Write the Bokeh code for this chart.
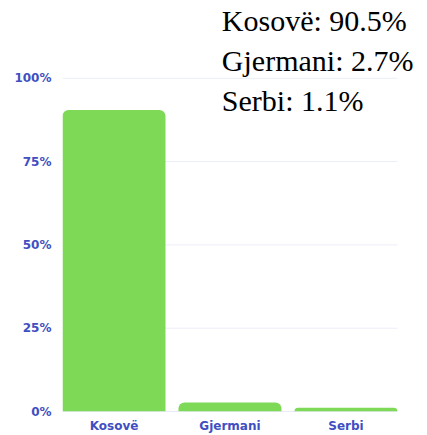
from bokeh.plotting import figure
from bokeh.models import Range1d, FixedTicker, Label, ColumnDataSource
from bokeh.embed import file_html
from bokeh.resources import INLINE

categories = ["Kosovë", "Gjermani", "Serbi"]
values = [90.5, 2.7, 1.1]
y_ticks = [0, 25, 50, 75, 100]
y_tick_labels = ["0%", "25%", "50%", "75%", "100%"]

BLUE = "#3f4fc2"
GREEN = "#7ed957"
BAR_W = 0.888

xs = list(range(len(categories)))
src = ColumnDataSource(dict(x=xs, val=values))

p = figure(width=427, height=435, x_range=Range1d(-0.444, 2.703), y_range=Range1d(0, 123.35),
           output_backend="svg", toolbar_location=None,
           min_border_left=62, min_border_right=0, min_border_top=0,
           min_border_bottom=23)
p.outline_line_color = None
p.background_fill_color = "white"
p.xgrid.grid_line_color = None
p.ygrid.grid_line_color = None

# horizontal grid lines limited to the bar area
grid_y = y_ticks[1:]
gx0 = xs[0] - BAR_W / 2
gx1 = xs[-1] + BAR_W / 2
p.segment(x0=[gx0] * len(grid_y), x1=[gx1] * len(grid_y),
          y0=grid_y, y1=grid_y, line_color="#eceef8", line_width=1)
# baseline
p.segment(x0=[gx0], x1=[gx1], y0=[y_ticks[0]], y1=[y_ticks[0]],
          line_color="#d3d8f2", line_width=1)

p.vbar(x="x", top="val", width=BAR_W, source=src, fill_color=GREEN,
       line_color=None, border_radius=(6, 6, 0, 0))

p.yaxis.ticker = FixedTicker(ticks=y_ticks)
p.yaxis.major_label_overrides = {t: l for t, l in zip(y_ticks, y_tick_labels)}
p.yaxis.axis_line_color = None
p.yaxis.major_tick_line_color = None
p.yaxis.minor_tick_line_color = None
p.yaxis.major_tick_out = 0
p.yaxis.major_tick_in = 0
p.yaxis.major_label_standoff = 11

p.xaxis.ticker = FixedTicker(ticks=xs)
p.xaxis.major_label_overrides = {x: c for x, c in zip(xs, categories)}
p.xaxis.axis_line_color = None
p.xaxis.major_tick_line_color = None
p.xaxis.minor_tick_line_color = None
p.xaxis.major_tick_out = 0
p.xaxis.major_tick_in = 0
p.xaxis.major_label_standoff = 7

for ax in (p.xaxis[0], p.yaxis[0]):
    ax.major_label_text_color = BLUE
    ax.major_label_text_font = "DejaVu Sans"
    ax.major_label_text_font_style = "bold"
p.xaxis.major_label_text_font_size = "12px"
p.yaxis.major_label_text_font_size = "12px"

for i, (c, v) in enumerate(zip(categories, values)):
    p.add_layout(Label(x=0.93, y=117.2 - 12.0 * i,
                       text=f"{c}: {v}%", text_font="Liberation Serif",
                       text_font_size="30px", text_color="black",
                       text_baseline="alphabetic"))

open("out.html", "w").write(file_html(p, INLINE))
